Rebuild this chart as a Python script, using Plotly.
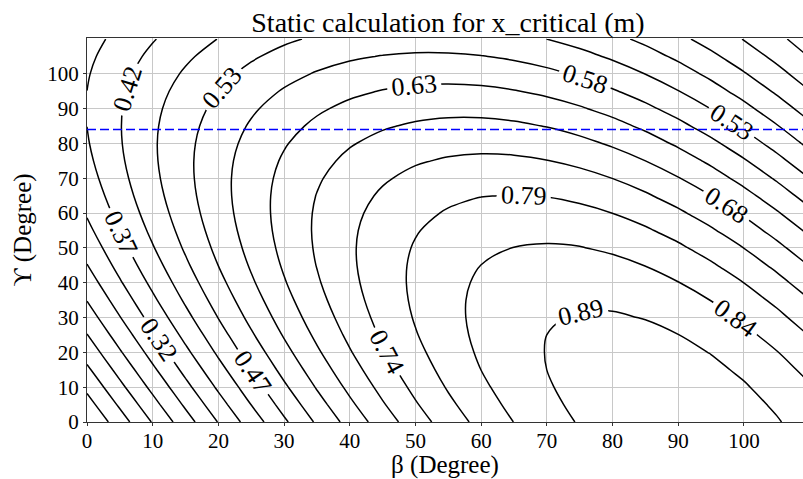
import plotly.graph_objects as go

# Grid of the two joint angles (degrees)
beta_deg = [0, 5, 10, 15, 20, 25, 30, 35, 40, 45, 50, 55, 60, 65, 70, 75, 80, 85, 90, 95, 100, 105, 110]
gamma_deg = [0, 5, 10, 15, 20, 25, 30, 35, 40, 45, 50, 55, 60, 65, 70, 75, 80, 85, 90, 95, 100, 105, 110]

# x_critical (m); one row per gamma value, one column per beta value
x_critical = [
    [0.0000, 0.0810, 0.1614, 0.2407, 0.3180, 0.3931, 0.4650, 0.5334, 0.5978, 0.6576, 0.7124, 0.7618, 0.8054, 0.8428, 0.8739, 0.8983, 0.9159, 0.9265, 0.9300, 0.9265, 0.9159, 0.8983, 0.8739],
    [0.0322, 0.1130, 0.1930, 0.2714, 0.3479, 0.4217, 0.4922, 0.5590, 0.6216, 0.6794, 0.7321, 0.7791, 0.8203, 0.8552, 0.8836, 0.9053, 0.9201, 0.9279, 0.9286, 0.9223, 0.9089, 0.8886, 0.8615],
    [0.0642, 0.1446, 0.2237, 0.3013, 0.3765, 0.4489, 0.5178, 0.5828, 0.6434, 0.6991, 0.7494, 0.7940, 0.8327, 0.8649, 0.8906, 0.9095, 0.9215, 0.9265, 0.9244, 0.9153, 0.8992, 0.8762, 0.8466],
    [0.0958, 0.1753, 0.2536, 0.3299, 0.4037, 0.4745, 0.5416, 0.6046, 0.6631, 0.7164, 0.7643, 0.8064, 0.8424, 0.8719, 0.8948, 0.9109, 0.9201, 0.9223, 0.9174, 0.9056, 0.8868, 0.8613, 0.8293],
    [0.1265, 0.2052, 0.2822, 0.3571, 0.4293, 0.4983, 0.5634, 0.6243, 0.6804, 0.7313, 0.7767, 0.8161, 0.8494, 0.8761, 0.8962, 0.9095, 0.9159, 0.9153, 0.9077, 0.8932, 0.8719, 0.8440, 0.8096],
    [0.1564, 0.2338, 0.3094, 0.3827, 0.4531, 0.5201, 0.5831, 0.6416, 0.6953, 0.7437, 0.7864, 0.8231, 0.8536, 0.8775, 0.8948, 0.9053, 0.9089, 0.9056, 0.8953, 0.8783, 0.8546, 0.8243, 0.7878],
    [0.1850, 0.2610, 0.3350, 0.4065, 0.4749, 0.5398, 0.6004, 0.6565, 0.7077, 0.7534, 0.7934, 0.8273, 0.8550, 0.8761, 0.8906, 0.8983, 0.8992, 0.8932, 0.8804, 0.8610, 0.8349, 0.8025, 0.7640],
    [0.2122, 0.2866, 0.3588, 0.4283, 0.4946, 0.5571, 0.6153, 0.6689, 0.7174, 0.7604, 0.7976, 0.8287, 0.8536, 0.8719, 0.8836, 0.8886, 0.8868, 0.8783, 0.8631, 0.8413, 0.8131, 0.7787, 0.7384],
    [0.2378, 0.3104, 0.3806, 0.4480, 0.5119, 0.5720, 0.6277, 0.6786, 0.7244, 0.7646, 0.7990, 0.8273, 0.8494, 0.8649, 0.8739, 0.8762, 0.8719, 0.8610, 0.8434, 0.8195, 0.7893, 0.7531, 0.7112],
    [0.2616, 0.3322, 0.4003, 0.4653, 0.5268, 0.5844, 0.6374, 0.6856, 0.7286, 0.7660, 0.7976, 0.8231, 0.8424, 0.8552, 0.8615, 0.8613, 0.8546, 0.8413, 0.8216, 0.7957, 0.7637, 0.7259, 0.6826],
    [0.2834, 0.3519, 0.4176, 0.4802, 0.5392, 0.5941, 0.6444, 0.6898, 0.7300, 0.7646, 0.7934, 0.8161, 0.8327, 0.8428, 0.8466, 0.8440, 0.8349, 0.8195, 0.7978, 0.7701, 0.7365, 0.6973, 0.6527],
    [0.3031, 0.3692, 0.4325, 0.4926, 0.5489, 0.6011, 0.6486, 0.6912, 0.7286, 0.7604, 0.7864, 0.8064, 0.8203, 0.8279, 0.8293, 0.8243, 0.8131, 0.7957, 0.7722, 0.7429, 0.7079, 0.6674, 0.6220],
    [0.3204, 0.3841, 0.4449, 0.5023, 0.5559, 0.6053, 0.6500, 0.6898, 0.7244, 0.7534, 0.7767, 0.7940, 0.8054, 0.8106, 0.8096, 0.8025, 0.7893, 0.7701, 0.7450, 0.7143, 0.6780, 0.6367, 0.5904],
    [0.3353, 0.3965, 0.4546, 0.5093, 0.5601, 0.6067, 0.6486, 0.6856, 0.7174, 0.7437, 0.7643, 0.7791, 0.7881, 0.7909, 0.7878, 0.7787, 0.7637, 0.7429, 0.7164, 0.6844, 0.6473, 0.6051, 0.5584],
    [0.3477, 0.4062, 0.4616, 0.5135, 0.5615, 0.6053, 0.6444, 0.6786, 0.7077, 0.7313, 0.7494, 0.7618, 0.7684, 0.7691, 0.7640, 0.7531, 0.7365, 0.7143, 0.6865, 0.6537, 0.6157, 0.5731, 0.5262],
    [0.3574, 0.4132, 0.4658, 0.5149, 0.5601, 0.6011, 0.6374, 0.6689, 0.6953, 0.7164, 0.7321, 0.7421, 0.7466, 0.7453, 0.7384, 0.7259, 0.7079, 0.6844, 0.6558, 0.6221, 0.5837, 0.5409, 0.4940],
    [0.3644, 0.4174, 0.4672, 0.5135, 0.5559, 0.5941, 0.6277, 0.6565, 0.6804, 0.6991, 0.7124, 0.7203, 0.7228, 0.7197, 0.7112, 0.6973, 0.6780, 0.6537, 0.6242, 0.5901, 0.5515, 0.5087, 0.4620],
    [0.3686, 0.4188, 0.4658, 0.5093, 0.5489, 0.5844, 0.6153, 0.6416, 0.6631, 0.6794, 0.6906, 0.6965, 0.6972, 0.6925, 0.6826, 0.6674, 0.6473, 0.6221, 0.5922, 0.5579, 0.5193, 0.4767, 0.4304],
    [0.3700, 0.4174, 0.4616, 0.5023, 0.5392, 0.5720, 0.6004, 0.6243, 0.6434, 0.6576, 0.6668, 0.6709, 0.6700, 0.6639, 0.6527, 0.6367, 0.6157, 0.5901, 0.5600, 0.5257, 0.4873, 0.4451, 0.3997],
    [0.3686, 0.4132, 0.4546, 0.4926, 0.5268, 0.5571, 0.5831, 0.6046, 0.6216, 0.6338, 0.6412, 0.6437, 0.6414, 0.6340, 0.6220, 0.6051, 0.5837, 0.5579, 0.5278, 0.4937, 0.4557, 0.4144, 0.3698],
    [0.3644, 0.4062, 0.4449, 0.4802, 0.5119, 0.5398, 0.5634, 0.5828, 0.5978, 0.6082, 0.6140, 0.6151, 0.6115, 0.6033, 0.5904, 0.5731, 0.5515, 0.5257, 0.4958, 0.4621, 0.4250, 0.3845, 0.3412],
    [0.3574, 0.3965, 0.4325, 0.4653, 0.4946, 0.5201, 0.5416, 0.5590, 0.5722, 0.5810, 0.5854, 0.5852, 0.5808, 0.5717, 0.5584, 0.5409, 0.5193, 0.4937, 0.4642, 0.4314, 0.3951, 0.3559, 0.3140],
    [0.3477, 0.3841, 0.4176, 0.4480, 0.4749, 0.4983, 0.5178, 0.5334, 0.5450, 0.5524, 0.5555, 0.5545, 0.5492, 0.5397, 0.5262, 0.5087, 0.4873, 0.4621, 0.4335, 0.4015, 0.3665, 0.3287, 0.2884],
]

# Contour levels: 0..1 split into 19 equal steps
level_step = 1 / 19
level_start = 1 / 19
level_end = 17 / 19

# Reference gamma marked with a dashed line (degrees)
gamma_ref = 84

# Labelled ticks on both axes
tick_values = [0, 10, 20, 30, 40, 50, 60, 70, 80, 90, 100]

SERIF = "Liberation Serif"

fig = go.Figure()

fig.add_trace(
    go.Contour(
        x=beta_deg,
        y=gamma_deg,
        z=x_critical,
        contours=dict(
            start=level_start,
            end=level_end,
            size=level_step,
            coloring="lines",
            showlabels=True,
            labelformat=".2f",
            labelfont=dict(family=SERIF, size=26, color="black"),
        ),
        colorscale=[[0, "black"], [1, "black"]],
        showscale=False,
        line=dict(width=1.5, smoothing=1),
        hoverinfo="skip",
    )
)

fig.add_trace(
    go.Scatter(
        x=[beta_deg[0], beta_deg[-1]],
        y=[gamma_ref, gamma_ref],
        mode="lines",
        line=dict(color="#0000ff", width=1.5, dash="9px,4px"),
        showlegend=False,
        hoverinfo="skip",
    )
)

axis_common = dict(
    tickmode="array",
    tickvals=tick_values,
    showgrid=True,
    gridcolor="#c8c8c8",
    gridwidth=1,
    showline=True,
    linecolor="#333333",
    linewidth=1,
    mirror=True,
    ticks="outside",
    ticklen=3,
    tickcolor="#333333",
    tickfont=dict(family=SERIF, size=21, color="black"),
    zeroline=False,
)

fig.update_layout(
    width=803,
    height=479,
    margin=dict(l=87, r=0, t=38, b=57),
    paper_bgcolor="white",
    plot_bgcolor="white",
    showlegend=False,
    title=dict(
        text="Static calculation for x_critical (m)",
        font=dict(family=SERIF, size=28, color="black"),
        x=448 / 803,
        xanchor="center",
        xref="container",
        y=1 - 22 / 479,
        yanchor="middle",
        yref="container",
    ),
    xaxis=dict(
        range=[0, 109],
        ticklabelstandoff=-3,
        title=dict(text="β (Degree)", font=dict(family=SERIF, size=25, color="black"), standoff=8),
        **axis_common,
    ),
    yaxis=dict(
        range=[0, 110.3],
        title=dict(
            text="ϒ (Degree)",
            font=dict(family=SERIF, size=25, color="black"),
            standoff=8,
        ),
        **axis_common,
    ),
)

fig.write_html("out.html")
